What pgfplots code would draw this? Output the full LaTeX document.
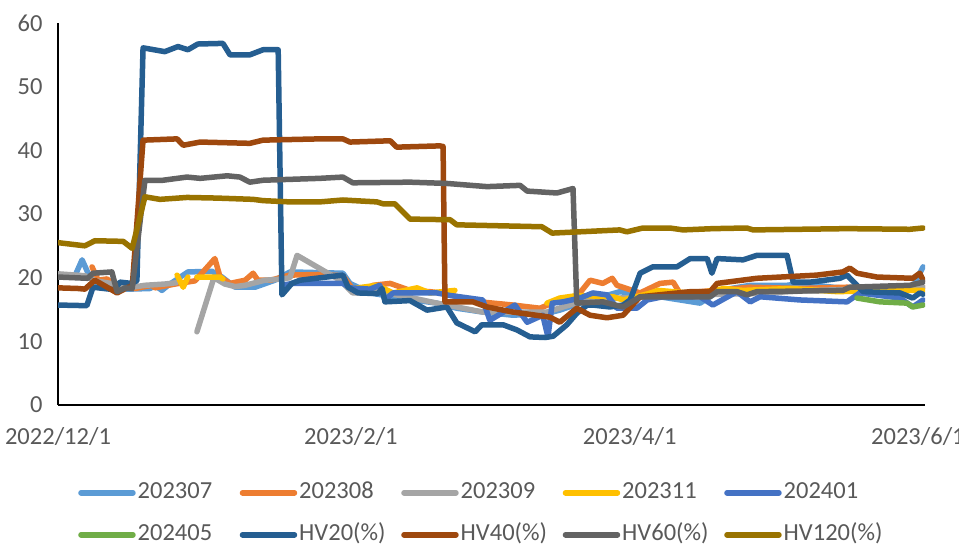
\documentclass[border=0pt]{standalone}
\usepackage{fontspec}
\setmainfont{Carlito}
\usepackage{pgfplots}
\pgfplotsset{compat=1.18}
\definecolor{c307}{HTML}{5B9BD5}
\definecolor{c308}{HTML}{ED7D31}
\definecolor{c309}{HTML}{A5A5A5}
\definecolor{c311}{HTML}{FFC000}
\definecolor{c401}{HTML}{4472C4}
\definecolor{c405}{HTML}{70AD47}
\definecolor{hv20}{HTML}{255E91}
\definecolor{hv40}{HTML}{9E480E}
\definecolor{hv60}{HTML}{636363}
\definecolor{hv120}{HTML}{997300}
\definecolor{txt}{HTML}{595959}
\newcommand{\lf}{\fontsize{24.5}{29}\selectfont}
\begin{document}
\begin{tikzpicture}
\path[use as bounding box] (0,0) rectangle (959pt,549pt);
\begin{axis}[
  at={(58pt,144pt)}, anchor=south west,
  scale only axis, width=867pt, height=382pt,
  xmin=0, xmax=183.5, ymin=0, ymax=60,
  axis x line*=bottom, axis y line*=left,
  axis line style={black, line width=1.5pt},
  major tick length=0pt,
  xtick={0,62,121,182},
  xticklabels={2022/12/1,2023/2/1,2023/4/1,2023/6/1},
  ytick={0,10,20,30,40,50,60},
  /pgf/number format/assume math mode=true,
  ticklabel style={font=\lf, text=txt},
  yticklabel style={xshift=-12pt},
  xticklabel style={yshift=-19pt},
  unbounded coords=jump,
  every axis plot/.append style={line width=5.5pt, line join=round, line cap=round},
  legend columns=5,
  legend cell align=left,
  legend style={at={(0.0231,-0.198)}, anchor=north west, draw=none, fill=none,
    font=\lf, text=txt, inner sep=0pt,
    nodes={inner sep=2pt, text height=16pt, text depth=4pt},
    row sep=18pt,
    /tikz/every even column/.append style={column sep=0pt}},
  legend image code/.code={\draw[#1, line width=5.5pt, line cap=round] (0pt,0pt) -- (52pt,0pt);},
]
% 202307
\addplot[c307] coordinates {(3.6,20.3)(5.1,22.8)(6.8,20)(8.5,19)(11,18.3)(15.2,18.2)(19.5,18.3)(20.5,18.8)(22,18)(23.3,18.8)(27.5,20.9)(32.6,21)(34.7,20.1)(37.5,18.5)(41.7,18.5)(45.9,19.6)(49.1,20.9)(60.3,20.7)(61.8,19.1)(66,17.6)(75.1,16.5)(80.2,16)(84.4,15.2)(89.9,14.6)(96.3,14.1)(103.5,14.4)(106.2,14.9)(110.5,16)(118.9,17.8)(127.4,17)(135.9,16)(140.1,18)(146.5,18.8)(154.3,18.8)(157,19.1)(164,18.5)(172.5,18)(180.9,18.5)(183.1,21.7)};
% 202308
\addplot[c308] coordinates {(7.2,21.7)(8.5,19.6)(10.4,19.8)(12.5,18.5)(16.3,18.3)(19.9,18.8)(20.5,18.4)(24.8,19.0)(29,19.5)(33.2,23)(34.3,20.1)(36.4,19.1)(39.6,19.6)(41.3,20.7)(42.3,19.6)(45,19.6)(49,20.4)(55,20.5)(60.3,20.3)(62.4,18.2)(63.3,17.6)(66.7,18.8)(70.3,19.1)(74.5,18.0)(78.7,17.8)(81,17.6)(89.3,16.2)(96.3,15.7)(102,15.2)(104.6,16)(109.8,17)(112.6,19.6)(115.3,19.1)(117.3,19.9)(118.3,18.8)(123.2,17.6)(127.4,19.1)(130.2,19.3)(131.6,17.6)(135.9,17.8)(146.5,18.5)(157,18.3)(167,18.5)(175,18.3)(183.1,18.5)};
% 202309
\addplot[c309] coordinates {(0,20.6)(5.7,20.3)(8,19.5)(15.7,18.5)(18.4,18.8)(22.6,19)(25,19.2)(26,nan)(29.4,11.5)(33,20)(35.3,19)(37.5,18.6)(39.6,18.8)(43.8,19.6)(47.6,19.8)(49.1,20)(50.6,23.5)(59.7,19.6)(62.4,17.6)(68.1,17.8)(75.1,16.8)(80.2,16)(84.4,15.4)(89.9,14.6)(96.3,14.6)(103.5,14.6)(106.9,15.4)(110.5,16.2)(118.9,16.8)(125,17)(135,17.3)(147,17.5)(160,18)(170,18.2)(180.9,18.4)(183.1,18.5)};
% 202311
\addplot[c311] coordinates {(25.2,20.4)(26.5,18.5)(27.5,20.1)(28.2,nan)(29.4,20.1)(34.3,20.1)(34.9,19.8)(40,nan)(62.4,18.3)(67.5,18.8)(70.9,17.6)(76,18.4)(78.7,17.6)(84,18)(90,nan)(103.5,16)(106.2,16.8)(110,17.2)(117.5,17)(119.6,16.5)(125,17.5)(127,18)(135,17.5)(141,18.3)(145,18)(155,18.3)(165,17.8)(175,18)(183.1,18)};
% 202401
\addplot[c401] coordinates {(47.6,18.8)(49.5,19.1)(60.3,19.1)(61.8,18.4)(66,18.2)(68.1,18.8)(69.2,16.5)(70.9,17.6)(80.2,17.6)(83,17.2)(89.9,16.5)(91.4,13.3)(96.7,15.7)(99.3,13)(102.6,14.1)(103.7,10.7)(104.6,16)(106.9,16.2)(110.5,16.8)(113.2,17.6)(116.2,17.3)(118.3,15.2)(122.5,15.2)(124.7,16.5)(128,17)(135.9,17)(138.6,15.7)(143.7,17.8)(146.5,16.2)(148.6,17)(157,16.5)(167,16.2)(169.7,17.6)(178.2,16.8)(180.9,15.4)(183.1,16.5)};
% 202405
\addplot[c405] coordinates {(169.1,16.8)(174,16.2)(179.7,16)(180.9,15.4)(183.1,15.7)};
% HV20
\addplot[hv20] coordinates {(0,15.7)(6.1,15.6)(7.4,18.5)(12,18.1)(13.1,19.3)(15.5,19.1)(16.7,19.5)(18,56.1)(22.6,55.5)(25.4,56.3)(27.5,55.8)(29.6,56.7)(34.9,56.8)(36.4,55)(40.6,55)(43.4,55.8)(46.6,55.8)(47.4,17.3)(49.5,19.1)(51.2,19.6)(60.3,20.4)(61.4,18.5)(63.5,17.6)(67.7,17.5)(68.6,18.3)(69.2,16.2)(74.5,16.4)(78.1,14.9)(82.3,15.4)(84.4,12.9)(88.3,11.5)(89.7,12.6)(94.2,12.6)(97.1,11.8)(99.9,10.7)(103.1,10.6)(104.8,10.8)(107.7,12.6)(109.8,14.4)(112,15.7)(113.2,15.7)(116.8,15.4)(119.6,15.7)(121.1,16.5)(123.2,20.7)(125.9,21.7)(131,21.7)(133.8,23)(137.4,23)(138.4,20.7)(139.5,23)(145,22.8)(147.9,23.5)(154.3,23.5)(155.6,19.3)(159.2,19.3)(165.5,19.9)(167,20.4)(170.4,17.8)(178.2,17.6)(180.9,16.8)(182.4,17.6)(183.1,17.4)};
% HV40
\addplot[hv40] coordinates {(0,18.4)(4.2,18.3)(5.7,18.2)(7.8,19.6)(12.5,17.6)(14.8,18.5)(15.7,18.5)(18,41.6)(25.2,41.8)(26.5,40.8)(30.1,41.3)(40.6,41.1)(43.4,41.6)(55.4,41.8)(60.3,41.8)(61.8,41.3)(70.3,41.5)(71.7,40.5)(80.8,40.7)(81.5,40.6)(81.9,16.2)(87.8,16.2)(90.8,15.4)(96.3,14.6)(104.1,13.8)(106.2,13)(109.8,15.2)(112.6,14.1)(116.2,13.7)(119.6,14.1)(123.2,17)(133.8,17.8)(138,17.8)(139.5,19.1)(147.9,19.9)(160.6,20.4)(166.1,20.9)(167.6,21.5)(169.1,20.7)(173.3,20.1)(180.9,19.9)(182.4,20.7)(183.1,19.6)};
% HV60
\addplot[hv60] coordinates {(0,20.1)(6.3,19.9)(7.4,20.7)(11.4,20.9)(12.5,17.8)(14.2,18.4)(15.7,18.3)(18.4,35.3)(22.2,35.3)(27.3,35.8)(30.1,35.6)(35.8,36)(38.5,35.8)(40.6,35)(43.4,35.3)(55.4,35.6)(60.3,35.8)(62.4,34.9)(74.5,35)(82.3,34.8)(90.8,34.3)(97.8,34.5)(99.3,33.6)(105.6,33.3)(109,34)(109.8,16)(115.3,16.2)(119.6,15.4)(123.2,17)(138,17)(139.5,17.8)(143.7,17.8)(145.8,17.3)(147.9,17.8)(166.1,18)(167.6,18.5)(180.3,18.8)(183.1,19.3)};
% HV120
\addplot[hv120] coordinates {(0,25.5)(5.7,25)(7.8,25.8)(13.8,25.7)(15.7,24.6)(18.4,32.7)(21.6,32.3)(27.3,32.6)(33.7,32.5)(41.3,32.3)(43.4,32.1)(49.1,31.9)(55.4,31.9)(60.3,32.2)(67.5,31.9)(68.8,31.6)(71.3,31.6)(74.5,29.2)(83,29.1)(84.4,28.3)(102.4,28)(104.6,27)(118.9,27.5)(120.4,27.2)(123.8,27.8)(129.5,27.8)(132.3,27.5)(138.6,27.7)(145.8,27.8)(147.1,27.5)(167,27.7)(180.3,27.6)(183.1,27.8)};
\legend{\makebox[100pt][l]{202307},\makebox[100pt][l]{202308},\makebox[100pt][l]{202309},\makebox[100pt][l]{202311},\makebox[100pt][l]{202401},\makebox[100pt][l]{202405},\makebox[100pt][l]{HV20(\%)},\makebox[100pt][l]{HV40(\%)},\makebox[100pt][l]{HV60(\%)},\makebox[100pt][l]{HV120(\%)}}
\end{axis}
\end{tikzpicture}
\end{document}
